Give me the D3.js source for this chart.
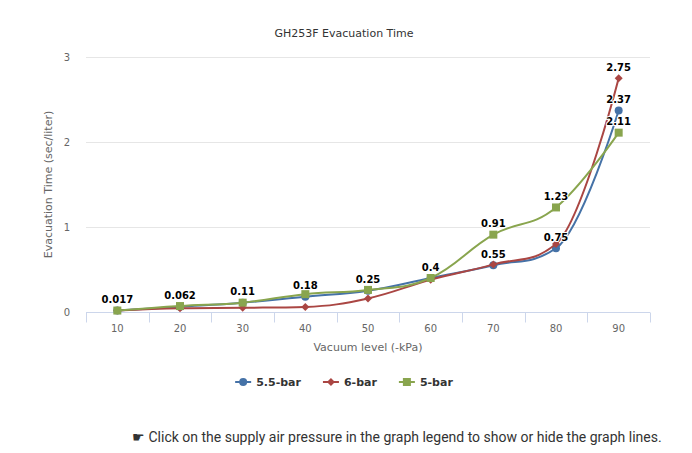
<!DOCTYPE html>
<html>
<head>
<meta charset="utf-8">
<script src="https://cdn.jsdelivr.net/npm/d3@7"></script>
<style>
  html, body { margin: 0; padding: 0; background: #fff; }
  svg { display: block; }
  text { font-family: "DejaVu Sans", sans-serif; }
</style>
</head>
<body>
<svg id="chart" width="692" height="453"></svg>
<script>
// ---------- data ----------
const categories = [10, 20, 30, 40, 50, 60, 70, 80, 90];
const yTicks = [0, 1, 2, 3];
const seriesNames = ["5.5-bar", "6-bar", "5-bar"];
const values55 = [0.017, 0.062, 0.11, 0.18, 0.25, 0.4, 0.55, 0.75, 2.37];
const values6  = [0.017, 0.045, 0.05, 0.06, 0.16, 0.38, 0.56, 0.8, 2.75];
const values5  = [0.017, 0.07, 0.11, 0.21, 0.26, 0.4, 0.91, 1.23, 2.11];
const titleText = "GH253F Evacuation Time";
const xTitle = "Vacuum level (-kPa)";
const yTitle = "Evacuation Time (sec/liter)";
const footnote = "\u261B Click on the supply air pressure in the graph legend to show or hide the graph lines.";

const seriesList = [
  { name: seriesNames[0], values: values55, color: "#4572A7", symbol: "circle" },
  { name: seriesNames[1], values: values6,  color: "#AA4643", symbol: "diamond" },
  { name: seriesNames[2], values: values5,  color: "#89A54E", symbol: "square" }
];

// ---------- layout ----------
const svg = d3.select("#chart");
const plot = { left: 86, right: 650, top: 57, bottom: 312 };
const centerX = 344;

const x = d3.scaleBand().domain(categories).range([plot.left, plot.right]).padding(0);
const y = d3.scaleLinear().domain([0, 3]).range([plot.bottom, plot.top]);
const cx = c => x(c) + x.bandwidth() / 2;

// title
svg.append("text").attr("x", centerX).attr("y", 37).attr("text-anchor", "middle")
  .attr("fill", "#333").style("font-size", "11px").text(titleText);

// grid lines
const yAxis = d3.axisLeft(y).tickValues(yTicks).tickSize(0).tickPadding(0).tickFormat(d3.format("d"));
const gy = svg.append("g").attr("transform", `translate(${plot.left - 16},0)`).call(yAxis);
gy.select(".domain").remove();
gy.selectAll("text").attr("fill", "#666").style("font-size", "10px").attr("dy", "0.35em");

svg.append("g").selectAll("line").data(yTicks.filter(t => t > 0)).join("line")
  .attr("x1", plot.left).attr("x2", plot.right)
  .attr("y1", d => Math.round(y(d)) + 0.5).attr("y2", d => Math.round(y(d)) + 0.5)
  .attr("stroke", "#e6e6e6").attr("stroke-width", 1);

// x axis
const xAxis = d3.axisBottom(x).tickSize(0).tickPadding(12);
const gx = svg.append("g").attr("transform", `translate(0,${plot.bottom + 0.5})`).call(xAxis);
gx.select(".domain").attr("stroke", "#ccd6eb").attr("d", `M${plot.left},0H${plot.right}`);
gx.selectAll("text").attr("fill", "#666").style("font-size", "10px");
// tick marks on band boundaries
const edges = categories.map(c => x(c)).concat([plot.right]);
gx.selectAll("line.edge").data(edges).join("line").attr("class", "edge")
  .attr("x1", d => Math.round(d) + 0.5).attr("x2", d => Math.round(d) + 0.5)
  .attr("y1", 0).attr("y2", 10).attr("stroke", "#ccd6eb");

// axis titles
svg.append("text").attr("x", (plot.left + plot.right) / 2).attr("y", 351).attr("text-anchor", "middle")
  .attr("fill", "#666").style("font-size", "11px").text(xTitle);
svg.append("text").attr("transform", `translate(52,${(plot.top + plot.bottom) / 2}) rotate(-90)`)
  .attr("text-anchor", "middle").attr("fill", "#666").style("font-size", "11px").text(yTitle);

// Highcharts-like spline path
function splinePath(pts) {
  const smoothing = 1.5, denom = smoothing + 1;
  const p = pts.map(d => ({ x: d[0], y: d[1] }));
  for (let i = 1; i < p.length - 1; i++) {
    const last = p[i - 1], pt = p[i], next = p[i + 1];
    let lcx = (smoothing * pt.x + last.x) / denom, lcy = (smoothing * pt.y + last.y) / denom;
    let rcx = (smoothing * pt.x + next.x) / denom, rcy = (smoothing * pt.y + next.y) / denom;
    if (rcx !== lcx) {
      const corr = ((rcy - lcy) * (rcx - pt.x)) / (rcx - lcx) + pt.y - rcy;
      lcy += corr; rcy += corr;
    }
    if (lcy > last.y && lcy > pt.y) { lcy = Math.max(last.y, pt.y); rcy = 2 * pt.y - lcy; }
    else if (lcy < last.y && lcy < pt.y) { lcy = Math.min(last.y, pt.y); rcy = 2 * pt.y - lcy; }
    if (rcy > next.y && rcy > pt.y) { rcy = Math.max(next.y, pt.y); lcy = 2 * pt.y - rcy; }
    else if (rcy < next.y && rcy < pt.y) { rcy = Math.min(next.y, pt.y); lcy = 2 * pt.y - rcy; }
    pt.lcx = lcx; pt.lcy = lcy; pt.rcx = rcx; pt.rcy = rcy;
  }
  const path = d3.path();
  path.moveTo(p[0].x, p[0].y);
  for (let i = 1; i < p.length; i++) {
    const a = p[i - 1], b = p[i];
    path.bezierCurveTo(a.rcx ?? a.x, a.rcy ?? a.y, b.lcx ?? b.x, b.lcy ?? b.y, b.x, b.y);
  }
  return path.toString();
}

function symbolPath(type, px, py, r) {
  if (type === "circle") return d3.symbol(d3.symbolCircle, Math.PI * r * r)();
  if (type === "square") return `M${-r},${-r}H${r}V${r}H${-r}Z`;
  return `M0,${-r}L${r},0L0,${r}L${-r},0Z`;
}

const seriesG = svg.append("g");
seriesList.forEach(s => {
  const pts = s.values.map((v, i) => [cx(categories[i]), y(v)]);
  const g = seriesG.append("g");
  g.append("path").attr("d", splinePath(pts)).attr("fill", "none")
    .attr("stroke", s.color).attr("stroke-width", 2).attr("stroke-linejoin", "round").attr("stroke-linecap", "round");
  g.selectAll("path.m").data(s.values).join("path").attr("class", "m")
    .attr("transform", (d, i) => `translate(${cx(categories[i])},${y(d)})`)
    .attr("d", symbolPath(s.symbol, 0, 0, 4)).attr("fill", s.color);
});

// data labels with overlap hiding
const labelG = svg.append("g");
const shown = [];
seriesList.forEach(s => {
  s.values.forEach((v, i) => {
    const t = labelG.append("text")
      .attr("x", cx(categories[i])).attr("y", y(v) - 7.5)
      .attr("text-anchor", "middle").attr("fill", "#000")
      .attr("stroke", "#fff").attr("stroke-width", 2).attr("stroke-linejoin", "round")
      .style("paint-order", "stroke").style("font-size", "10px").style("font-weight", "bold")
      .text(String(v));
    const b = t.node().getBBox();
    const box = { x1: b.x - 2, x2: b.x + b.width + 2, y1: b.y - 3, y2: b.y + b.height + 3 };
    const hit = shown.some(o => box.x1 < o.x2 && box.x2 > o.x1 && box.y1 < o.y2 && box.y2 > o.y1);
    if (hit) t.remove(); else shown.push(box);
  });
});

// legend
const legend = svg.append("g");
let lx = 0;
const items = [];
seriesList.forEach(s => {
  const g = legend.append("g").attr("transform", `translate(${lx},0)`);
  g.append("line").attr("x1", 0).attr("x2", 16).attr("y1", 0).attr("y2", 0)
    .attr("stroke", s.color).attr("stroke-width", 2);
  g.append("path").attr("transform", "translate(8,0)").attr("d", symbolPath(s.symbol, 0, 0, 4)).attr("fill", s.color);
  const t = g.append("text").attr("x", 21).attr("y", 4).attr("fill", "#333")
    .style("font-size", "11px").style("font-weight", "bold").text(s.name);
  const w = 21 + t.node().getComputedTextLength();
  lx += w + 22;
});
const legendW = lx - 22;
legend.attr("transform", `translate(${centerX - legendW / 2},382)`);

// footnote
svg.append("text").attr("x", 132).attr("y", 442).attr("fill", "#333")
  .style("font-family", "Roboto, sans-serif").style("font-size", "14px").text(footnote);
</script>
</body>
</html>
